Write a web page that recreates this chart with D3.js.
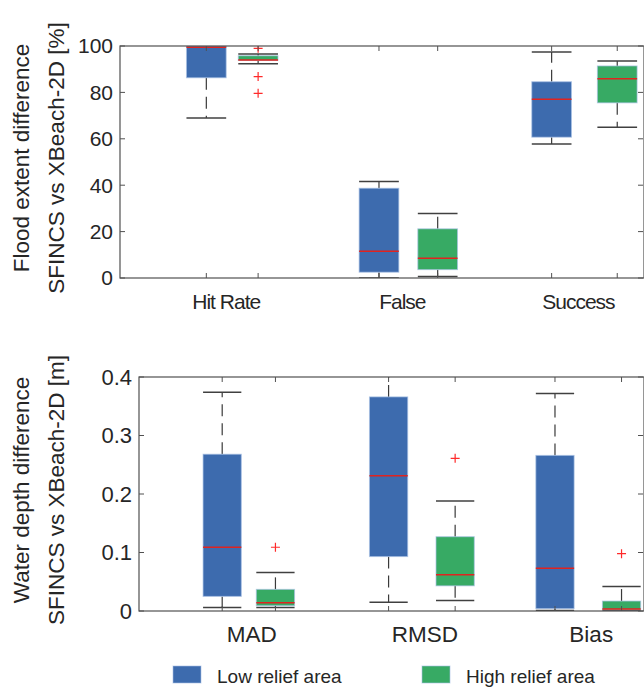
<!DOCTYPE html>
<html>
<head>
<meta charset="utf-8">
<script src="https://cdn.jsdelivr.net/npm/d3@7"></script>
<style>
  body { margin: 0; background: #fff; }
  text { font-family: "Liberation Sans", Arial, sans-serif; fill: #262626; }
</style>
</head>
<body>
<div id="chart"></div>
<script>
// ---- data (five-number summaries: min, q1, median, q3, max) ----
var floodCats = ["Hit Rate", "False", "Success"];
var floodLowPos = [1, 2, 3];
var floodHighPos = [1.3, 2.34, 3.38];
var floodLow = [
  [69, 86.3, 99.5, 100, 100],
  [0, 2.5, 11.5, 38.7, 41.6],
  [57.8, 60.7, 77.0, 84.6, 97.4]
];
var floodHigh = [
  [92.4, 93.8, 94.0, 95.8, 96.5],
  [0.6, 3.6, 8.5, 21.2, 27.8],
  [65.0, 75.5, 85.9, 91.4, 93.5]
];
var floodLowOut = [[], [], []];
var floodHighOut = [[99, 86.8, 79.6], [], []];
var floodTicks = [0, 20, 40, 60, 80, 100];

var depthCats = ["MAD", "RMSD", "Bias"];
var depthLowPos = [1, 2, 3];
var depthHighPos = [1.32, 2.4, 3.4];
var depthLow = [
  [0.006, 0.025, 0.109, 0.268, 0.374],
  [0.015, 0.093, 0.231, 0.366, 0.43],
  [0.001, 0.004, 0.073, 0.266, 0.372]
];
var depthHigh = [
  [0.006, 0.009, 0.014, 0.037, 0.066],
  [0.018, 0.043, 0.062, 0.127, 0.188],
  [0.001, 0.002, 0.0035, 0.017, 0.042]
];
var depthLowOut = [[], [], []];
var depthHighOut = [[0.109], [0.261], [0.098]];
var depthTicks = [0, 0.1, 0.2, 0.3, 0.4];

var legendLabels = ["Low relief area", "High relief area"];
var colors = ["#3d6bae", "#37aa64"];

var svg = d3.select("#chart")
  .append("svg")
    .attr("width", 644)
    .attr("height", 691);

function drawPanel(p) {
  var x = d3.scaleLinear().domain([0.5, 3.535]).range([p.left, 644]);
  var y = d3.scaleLinear().domain(p.yDomain).range([p.bottom, p.top]);
  var bw = x(1.23) - x(1);   // box width in pixels

  var g = svg.append("g");
  var clipId = "clip" + p.id;
  g.append("clipPath").attr("id", clipId)
    .append("rect")
      .attr("x", p.left).attr("y", p.top)
      .attr("width", 644 - p.left).attr("height", p.bottom - p.top);

  var plot = g.append("g").attr("clip-path", "url(#" + clipId + ")");

  var series = [
    {pos: p.lowPos, stats: p.low, out: p.lowOut, color: colors[0]},
    {pos: p.highPos, stats: p.high, out: p.highOut, color: colors[1]}
  ];

  series.forEach(function(s) {
    s.stats.forEach(function(d, i) {
      var cx = x(s.pos[i]);
      // whiskers (dashed)
      plot.append("line")
        .attr("x1", cx).attr("x2", cx)
        .attr("y1", y(d[3])).attr("y2", y(d[4]))
        .attr("stroke", "#3a3a3a").attr("stroke-width", 1.2)
        .attr("stroke-dasharray", "12,7");
      plot.append("line")
        .attr("x1", cx).attr("x2", cx)
        .attr("y1", y(d[1])).attr("y2", y(d[0]))
        .attr("stroke", "#3a3a3a").attr("stroke-width", 1.2)
        .attr("stroke-dasharray", "12,7");
      // caps
      [d[0], d[4]].forEach(function(v) {
        plot.append("line")
          .attr("x1", cx - bw / 2).attr("x2", cx + bw / 2)
          .attr("y1", y(v)).attr("y2", y(v))
          .attr("stroke", "#404040").attr("stroke-width", 1.5);
      });
      // box
      plot.append("rect")
        .attr("x", cx - bw / 2)
        .attr("y", y(d[3]))
        .attr("width", bw)
        .attr("height", Math.max(y(d[1]) - y(d[3]), 1))
        .attr("fill", s.color)
        .attr("stroke", "#a8c0e4")
        .attr("stroke-opacity", 0.7)
        .attr("stroke-width", 1);
      // median
      plot.append("line")
        .attr("x1", cx - bw / 2).attr("x2", cx + bw / 2)
        .attr("y1", y(d[2])).attr("y2", y(d[2]))
        .attr("stroke", "#e0231f").attr("stroke-width", 1.5);
      // outliers
      s.out[i].forEach(function(v) {
        var oy = y(v);
        plot.append("path")
          .attr("d", "M" + (cx - 4.5) + "," + oy + "H" + (cx + 4.5) +
                     "M" + cx + "," + (oy - 4.5) + "V" + (oy + 4.5))
          .attr("stroke", "#ff2a2a").attr("stroke-width", 1.2)
          .attr("fill", "none");
      });
    });
  });

  // axes box
  var ax = "#505050";
  g.append("rect")
    .attr("x", p.left).attr("y", p.top)
    .attr("width", 644 - p.left).attr("height", p.bottom - p.top)
    .attr("fill", "none").attr("stroke", ax).attr("stroke-width", 1.2);

  // y ticks (inward, both sides)
  p.ticks.forEach(function(t) {
    g.append("line")
      .attr("x1", p.left).attr("x2", p.left + 5)
      .attr("y1", y(t)).attr("y2", y(t))
      .attr("stroke", ax);
    g.append("line")
      .attr("x1", 643).attr("x2", 638)
      .attr("y1", y(t)).attr("y2", y(t))
      .attr("stroke", ax);
    g.append("text")
      .attr("x", p.left - 7)
      .attr("y", y(t))
      .attr("dy", "0.35em")
      .attr("text-anchor", "end")
      .style("font-size", p.tickSize + "px")
      .text(p.fmt(t));
  });

  // x ticks at each box position (inward, top and bottom)
  p.lowPos.concat(p.highPos).forEach(function(v) {
    g.append("line")
      .attr("x1", x(v)).attr("x2", x(v))
      .attr("y1", p.bottom).attr("y2", p.bottom - 5)
      .attr("stroke", ax);
    g.append("line")
      .attr("x1", x(v)).attr("x2", x(v))
      .attr("y1", p.top).attr("y2", p.top + 5)
      .attr("stroke", ax);
  });

  // category labels
  p.cats.forEach(function(c, i) {
    g.append("text")
      .attr("x", (x(p.lowPos[i]) + x(p.highPos[i])) / 2 + p.catShift)
      .attr("y", p.bottom + 31)
      .attr("text-anchor", "middle")
      .style("font-size", p.catSize + "px")
      .style("letter-spacing", p.catSpacing + "px")
      .text(c);
  });

  // y label (two lines)
  var mid = (p.top + p.bottom) / 2 - 4;
  p.ylabel.forEach(function(l, i) {
    g.append("text")
      .attr("transform", "translate(" + (29 + i * 35) + "," + mid + ") rotate(-90)")
      .attr("text-anchor", "middle")
      .style("font-size", "22.5px")
      .text(l);
  });
}

drawPanel({
  id: 1, left: 120, top: 46, bottom: 278,
  yDomain: [0, 100], ticks: floodTicks, fmt: d3.format("d"),
  cats: floodCats, lowPos: floodLowPos, highPos: floodHighPos,
  low: floodLow, high: floodHigh, lowOut: floodLowOut, highOut: floodHighOut,
  tickSize: 21, catSize: 21, catSpacing: -1, catShift: -6,
  ylabel: ["Flood extent difference", "SFINCS vs XBeach-2D [%]"]
});

drawPanel({
  id: 2, left: 139, top: 377, bottom: 611,
  yDomain: [0, 0.4], ticks: depthTicks, fmt: function(t) { return t === 0 ? "0" : d3.format(".1f")(t); },
  cats: depthCats, lowPos: depthLowPos, highPos: depthHighPos,
  low: depthLow, high: depthHigh, lowOut: depthLowOut, highOut: depthHighOut,
  tickSize: 22, catSize: 22.5, catSpacing: 0, catShift: 3,
  ylabel: ["Water depth difference", "SFINCS vs XBeach-2D [m]"]
});

// legend
var legend = svg.append("g");
var legX = [173, 422];
legendLabels.forEach(function(l, i) {
  legend.append("rect")
    .attr("x", legX[i]).attr("y", 666)
    .attr("width", 28).attr("height", 17)
    .attr("fill", colors[i])
    .attr("stroke", "#a8c0e4").attr("stroke-opacity", 0.6);
  legend.append("text")
    .attr("x", legX[i] + 44)
    .attr("y", 683)
    .style("font-size", "19px")
    .text(l);
});
</script>
</body>
</html>
